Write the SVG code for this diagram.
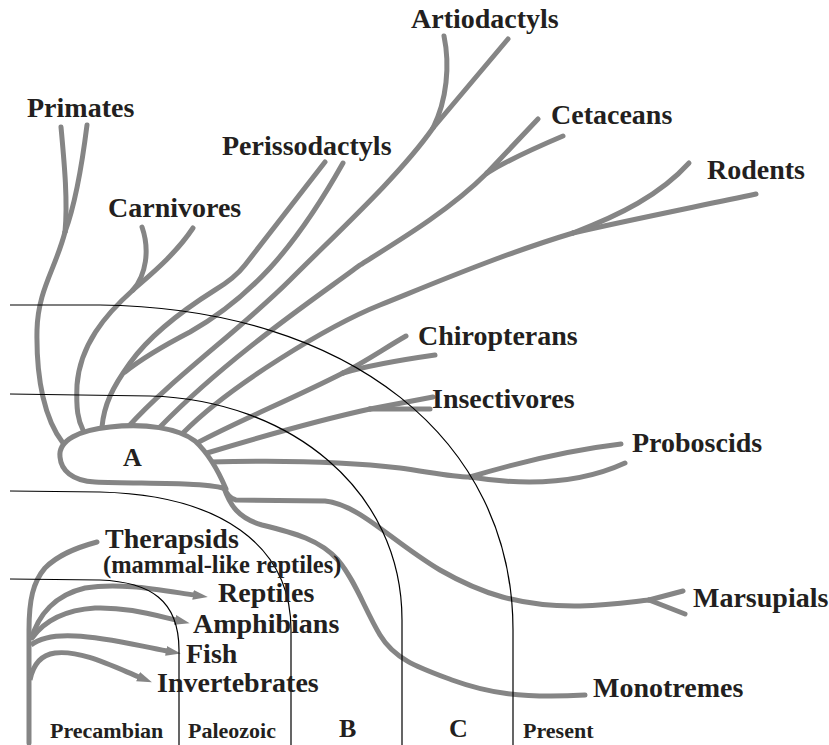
<svg xmlns="http://www.w3.org/2000/svg" width="829" height="745" viewBox="0 0 829 745">
<style>
.br{fill:none;stroke:#858585;stroke-width:5;stroke-linecap:round;stroke-linejoin:round}
.ar{fill:none;stroke:#858585;stroke-width:5;stroke-linecap:butt}
.era{fill:none;stroke:#000;stroke-width:1.2}
.t{font-family:"Liberation Serif","Times New Roman",serif;font-weight:bold;font-size:28px;fill:#231f20}
.s{font-size:22px}
.p{font-size:24.5px}
</style>
<defs>
<marker id="ah" markerUnits="userSpaceOnUse" viewBox="0 -6 16 12" markerWidth="16" markerHeight="12" refX="1" refY="0" orient="auto">
<path d="M0,-5 L15,0 L0,5 Z" fill="#858585"/>
</marker>
</defs>
<rect width="829" height="745" fill="#fff"/>
<g id="connectors">
<!-- Primates -->
<path class="br" d="M61,127 C64,160 68,200 65,232"/>
<path class="br" d="M87,125 C82,165 75,205 65,232"/>
<path class="br" d="M65,232 C55,270 38,290 37,330 C36,380 45,420 63,443"/>
<!-- Carnivores -->
<path class="br" d="M142,227 C150,250 146,275 133,290"/>
<path class="br" d="M193,228 C175,255 150,275 133,290"/>
<path class="br" d="M133,290 C105,315 80,345 77,385 C76,410 78,420 83,430"/>
<!-- Perissodactyls -->
<path class="br" d="M325,162 L245,265 Q235,278 215,290 C180,312 150,335 130,363 C112,388 104,405 102,427"/>
<path class="br" d="M343,163 C325,195 300,235 270,268 C245,295 215,318 190,332 C165,345 140,360 125,372"/>
<!-- Artiodactyls -->
<path class="br" d="M444,36 C450,65 447,100 433,128"/>
<path class="br" d="M508,39 L433,128"/>
<path class="br" d="M433,128 C400,175 340,230 290,280 C240,330 170,380 128,427"/>
<!-- Cetaceans -->
<path class="br" d="M538,119 L487,173"/>
<path class="br" d="M563,136 C530,150 505,162 487,173"/>
<path class="br" d="M487,173 C450,210 400,240 360,265 C320,295 230,355 160,427"/>
<!-- Rodents -->
<path class="br" d="M689,163 C660,195 620,215 573,233"/>
<path class="br" d="M756,194 C690,208 620,222 573,233"/>
<path class="br" d="M573,233 C500,255 430,285 380,305 C330,325 230,385 183,433"/>
<!-- Chiropterans -->
<path class="br" d="M197,443 C240,420 290,400 343,373"/>
<path class="br" d="M343,373 C365,362 385,348 406,336"/>
<path class="br" d="M343,373 C370,365 400,360 435,355"/>
<!-- Insectivores -->
<path class="br" d="M207,453 C260,437 320,420 370,409"/>
<path class="br" d="M370,409 L433,397"/>
<path class="br" d="M370,409 L430,409"/>
<!-- Proboscids -->
<path class="br" d="M210,462 C280,460 350,462 400,468 C430,472 450,477 470,477"/>
<path class="br" d="M470,477 C520,462 570,450 621,444"/>
<path class="br" d="M470,477 C520,485 575,486 625,463"/>
<!-- Marsupials -->
<path class="br" d="M224,487 Q228,498 236,500 L325,501 C360,505 390,540 440,570 C480,593 520,607 580,606 C610,605 630,602 649,600"/>
<path class="br" d="M649,600 L683,591"/>
<path class="br" d="M649,600 L685,614"/>
<!-- Monotremes -->
<path class="br" d="M224,488 C230,505 238,518 262,525 C295,533 320,540 338,560 C355,580 365,610 380,635 C395,660 420,668 452,680 C485,692 520,699 585,695"/>
<!-- Early lineages -->
<path class="br" d="M29,743 V630 C29,600 33,582 45,568 C58,555 75,548 97,542"/>
<path class="ar" marker-end="url(#ah)" d="M31,640 C38,615 55,595 85,588 C120,582 160,590 194,595"/>
<path class="ar" marker-end="url(#ah)" d="M32,638 C45,620 65,610 95,608 C125,607 150,614 176,620"/>
<path class="ar" marker-end="url(#ah)" d="M31,645 C40,638 55,635 75,636 C105,637 135,645 167,651"/>
<path class="ar" marker-end="url(#ah)" d="M30,680 C33,665 40,655 55,653 C80,650 110,665 139,677"/>
</g>
<g id="nodeA">
<path class="br" style="fill:#fff" d="M60,457 C58,440 80,430 110,427 C145,423 178,428 195,441 C208,453 218,470 226,489 C210,482 140,484 95,482 C72,481 61,470 60,457 Z"/>
<text class="t" x="123" y="466" style="font-size:26px">A</text>
</g>
<g id="eras">
<path class="era" d="M10,579 L100,580 C150,582 179,600 179,650 V745"/>
<path class="era" d="M10,491 L100,492 C220,495 291,545 291,630 V745"/>
<path class="era" d="M10,394 L150,396 C290,400 402,490 402,620 V745"/>
<path class="era" d="M10,305 L100,305 C350,308 513,440 513,630 V745"/>
</g>
<g id="n-primates"><text class="t" x="27" y="117">Primates</text></g>
<g id="n-artiodactyls"><text class="t" x="411" y="28">Artiodactyls</text></g>
<g id="n-perissodactyls"><text class="t" x="222" y="155">Perissodactyls</text></g>
<g id="n-cetaceans"><text class="t" x="551" y="124">Cetaceans</text></g>
<g id="n-rodents"><text class="t" x="707" y="179">Rodents</text></g>
<g id="n-carnivores"><text class="t" x="108" y="217">Carnivores</text></g>
<g id="n-chiropterans"><text class="t" x="418" y="345">Chiropterans</text></g>
<g id="n-insectivores"><text class="t" x="432" y="408">Insectivores</text></g>
<g id="n-proboscids"><text class="t" x="632" y="452">Proboscids</text></g>
<g id="n-marsupials"><text class="t" x="693" y="607">Marsupials</text></g>
<g id="n-monotremes"><text class="t" x="593" y="697">Monotremes</text></g>
<g id="n-therapsids"><text class="t" x="105" y="548">Therapsids</text><text class="t p" x="103" y="573">(mammal-like reptiles)</text></g>
<g id="n-reptiles"><text class="t" x="218" y="602">Reptiles</text></g>
<g id="n-amphibians"><text class="t" x="193" y="633">Amphibians</text></g>
<g id="n-fish"><text class="t" x="186" y="663">Fish</text></g>
<g id="n-invertebrates"><text class="t" x="157" y="692">Invertebrates</text></g>
<g id="eralabels">
<text class="t s" x="50" y="738">Precambian</text>
<text class="t s" x="188" y="738">Paleozoic</text>
<text class="t" x="339" y="737" style="font-size:26px">B</text>
<text class="t" x="449" y="737" style="font-size:26px">C</text>
<text class="t s" x="523" y="738">Present</text>
</g>
</svg>
